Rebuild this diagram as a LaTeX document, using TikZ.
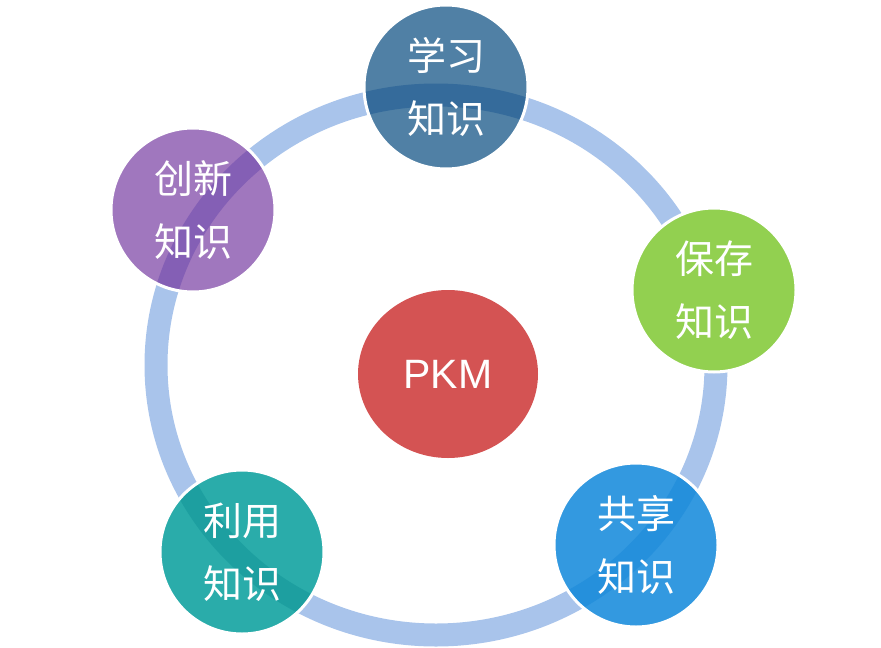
\documentclass[tikz,border=0pt]{standalone}
\usepackage{fontspec}
\setmainfont{Liberation Sans}
\newfontfamily\cjk{Noto Sans CJK SC}
\usetikzlibrary{shapes.geometric}

\definecolor{ringblue}{HTML}{A9C4EB}
\definecolor{learnfill}{HTML}{5080A5}
\definecolor{learnband}{HTML}{356B9B}
\definecolor{keepfill}{HTML}{92D050}
\definecolor{sharefill}{HTML}{3399E0}
\definecolor{shareband}{HTML}{2590DC}
\definecolor{usefill}{HTML}{2AACAA}
\definecolor{useband}{HTML}{1D9FA0}
\definecolor{newfill}{HTML}{A077BE}
\definecolor{newband}{HTML}{845FB5}
\definecolor{hubred}{HTML}{D45353}

\tikzset{
  ring/.style={line width=23pt, draw=ringblue},
  knot/.style={circle, minimum size=164pt, inner sep=0pt, draw=white, line width=3pt,
    text=white, align=center, font=\cjk\fontsize{39}{63}\selectfont},
  hub/.style={ellipse, minimum width=180pt, minimum height=168pt, inner sep=0pt,
    fill=hubred, text=white, font=\fontsize{41}{48}\selectfont},
}

\newcommand\ringline{(436,365) ellipse [x radius=280, y radius=270]}

\begin{document}
\begin{tikzpicture}[x=1pt, y=-1pt]
\useasboundingbox (0,0) rectangle (881,648);
% ring
\draw[ring] \ringline;
% circles, ring showing through
\foreach \cx/\cy/\fc/\bc in {446/87/learnfill/learnband, 714/290/keepfill/keepfill,
    636/545/sharefill/shareband, 242/552/usefill/useband, 193/210/newfill/newband} {
  \fill[\fc] (\cx,\cy) circle (82);
  \begin{scope}
    \clip (\cx,\cy) circle (82);
    \draw[ring, draw=\bc] \ringline;
  \end{scope}
}
% labels
\node[knot] (learn) at (446,87) {学习\\知识};
\node[knot] (keep) at (714,290) {保存\\知识};
\node[knot] (share) at (636,545) {共享\\知识};
\node[knot] (use) at (242,552) {利用\\知识};
\node[knot] (create) at (193,210) {创新\\知识};
\node[hub] (pkm) at (448,374) {PKM};
\end{tikzpicture}
\end{document}
